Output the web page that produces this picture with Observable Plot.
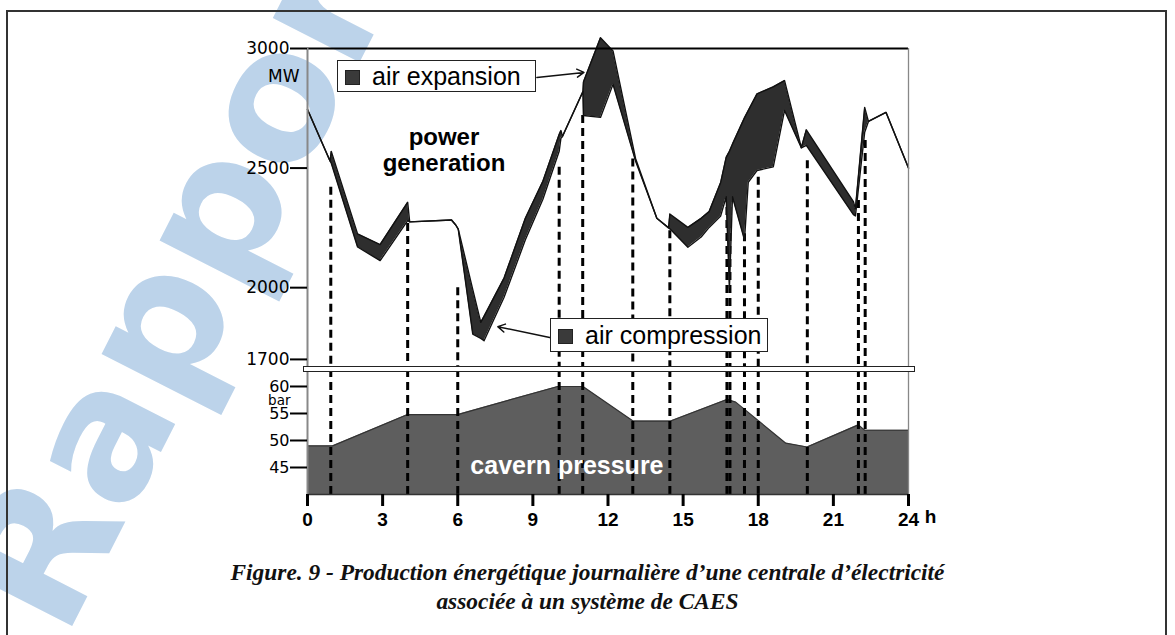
<!DOCTYPE html>
<html>
<head>
<meta charset="utf-8">
<script src="https://cdn.jsdelivr.net/npm/d3@7"></script>
<script src="https://cdn.jsdelivr.net/npm/@observablehq/plot@0.6"></script>
<style>
  html, body { margin:0; padding:0; background:#fff; }
  body { width:1175px; height:635px; overflow:hidden; position:relative; font-family:"Liberation Sans", Arial, sans-serif; }
  #wm { position:absolute; left:0; top:0; }
  #border { position:absolute; left:6px; top:10px; width:1161px; height:640px; border:2px solid #333; box-sizing:border-box; }
  #topPanel { position:absolute; left:0; top:0; }
  #botPanel { position:absolute; left:0; top:368px; }
  #sep { position:absolute; left:303px; top:366px; width:612px; height:6px; box-sizing:border-box; background:#fff; border:1.5px solid #222; }
  .legend { position:absolute; background:#fff; border:1.5px solid #222; box-sizing:border-box; font-size:25px; color:#000; white-space:nowrap; }
  .legend .sw { position:absolute; width:15px; height:15px; background:#3a3a3a; border:1px solid #222; box-sizing:border-box; }
  .legend .tx { position:absolute; line-height:1; }
  #caption { position:absolute; left:0; top:558px; width:1175px; text-align:center; font-family:"Liberation Serif", "DejaVu Serif", serif; font-style:italic; font-weight:bold; font-size:23.4px; line-height:29px; color:#111; }
</style>
</head>
<body>
<svg id="wm" width="1175" height="635"><text x="248" y="281" transform="rotate(-63 248 281)" text-anchor="middle" font-family="DejaVu Sans, Liberation Sans, sans-serif" font-weight="bold" font-size="178" fill="#bcd3ea">Rapport</text></svg>
<div id="border"></div>
<div id="topPanel"></div>
<div id="botPanel"></div>
<div id="sep"></div>
<div class="legend" style="left:337px;top:60px;width:199px;height:32px;"><div class="sw" style="left:7px;top:9px;"></div><div class="tx" style="left:34px;top:3px;">air expansion</div></div>
<div class="legend" style="left:550px;top:318px;width:218px;height:34px;"><div class="sw" style="left:7px;top:10px;"></div><div class="tx" style="left:34px;top:4px;">air compression</div></div>
<div id="caption">Figure. 9 - Production énergétique journalière d’une centrale d’électricité<br>associée à un système de CAES</div>
<script>
// ---- power generation (MW): band edges (upper / lower) per hour ----
const hours = [0.00, 0.90, 0.95, 2.00, 2.90, 4.00, 4.08, 5.75, 5.92, 6.02, 6.60, 6.92, 7.05, 7.85, 8.70, 9.40, 10.05, 10.12, 10.18, 11.00, 11.02, 11.70, 12.20, 13.10, 13.95, 14.42, 14.47, 15.19, 15.72, 16.04, 16.50, 16.72, 16.85, 16.97, 17.45, 17.60, 17.95, 18.60, 19.05, 19.72, 19.92, 21.80, 21.88, 22.25, 22.40, 23.10, 24.00];
const upperMW = [2745, 2530, 2570, 2225, 2180, 2357, 2275, 2283, 2262, 2245, 1992, 1855, 1880, 2040, 2290, 2445, 2640, 2657, 2632, 2820, 2860, 3045, 2990, 2540, 2290, 2250, 2308, 2252, 2290, 2318, 2440, 2545, 2570, 2600, 2710, 2740, 2810, 2840, 2866, 2585, 2660, 2360, 2330, 2754, 2695, 2733, 2500];
const lowerMW = [2745, 2530, 2520, 2170, 2113, 2280, 2275, 2283, 2262, 2245, 1806, 1788, 1778, 1960, 2200, 2370, 2570, 2625, 2632, 2820, 2720, 2712, 2850, 2530, 2290, 2250, 2246, 2169, 2212, 2252, 2300, 2380, 2000, 2380, 2200, 2440, 2490, 2505, 2741, 2585, 2595, 2305, 2300, 2650, 2695, 2733, 2500];

// ---- cavern pressure (bar) ----
const pHours = [0, 1.0, 4.0, 6.0, 10.0, 11.0, 13.0, 14.5, 16.75, 17.1, 19.1, 19.95, 22.0, 22.25, 24];
const pBar   = [49, 49, 54.8, 54.8, 60, 60, 53.6, 53.6, 57.6, 57.1, 49.5, 48.8, 52.9, 51.9, 51.9];

// ---- switching instants (dashed lines) and where they start in the top panel ----
const dashHours = [0.93, 4.0, 6.0, 10.05, 10.99, 12.99, 14.47, 16.75, 16.87, 17.45, 18.0, 19.96, 22.0, 22.27];
const dashTopMW = [2420, 2268, 2000, 2503, 2720, 2538, 2238, 2390, 2390, 2225, 2462, 2531, 2364, 2615];

// ---- ticks ----
const mwTicks = [1700, 2000, 2500, 3000];
const barTicks = [45, 50, 55, 60];
const hourTicks = [0, 3, 6, 9, 12, 15, 18, 21, 24];

const band = hours.map((h, i) => ({h, up: upperMW[i], lo: lowerMW[i]}));
const press = pHours.map((h, i) => ({h, p: pBar[i], base: 40}));
const dashes = dashHours.map((h, i) => ({h, top: dashTopMW[i]}));

const font = "Liberation Sans, Arial, sans-serif";
const tickFont = "DejaVu Sans, Liberation Sans, sans-serif";
const dash = {stroke: "#000", strokeWidth: 3, strokeDasharray: "8,5"};

const topPlot = Plot.plot({
  width: 1175, height: 368,
  marginLeft: 307, marginRight: 267, marginTop: 48, marginBottom: 0,
  x: {domain: [0, 24], axis: null},
  y: {domain: [1662, 3000], axis: null},
  style: {background: "transparent", overflow: "visible", fontFamily: font},
  marks: [
    Plot.ruleX(dashes, {x: "h", y1: "top", y2: 1662, ...dash}),
    Plot.areaY(band, {x: "h", y1: "lo", y2: "up", fill: "#2e2e2e", curve: "linear"}),
    Plot.line(band, {x: "h", y: "up", stroke: "#111", strokeWidth: 1.4}),
    Plot.line(band, {x: "h", y: "lo", stroke: "#111", strokeWidth: 1.4}),
    Plot.ruleY([3000], {x1: 0, x2: 24, stroke: "#000", strokeWidth: 2}),
    Plot.ruleX([0], {stroke: "#888", strokeWidth: 2}),
    Plot.ruleX([24], {stroke: "#888", strokeWidth: 1.3}),
    Plot.axisY({ticks: mwTicks, tickSize: 17, tickPadding: 1, fontSize: 17, fontFamily: tickFont, strokeWidth: 2, tickFormat: d => String(d), label: null}),
    Plot.text(["MW"], {frameAnchor: "top-left", dx: -8, dy: 28, textAnchor: "end", lineAnchor: "middle", fontSize: 17, fontFamily: tickFont}),
    Plot.text(["power\ngeneration"], {x: 5.45, y: 2577, fontSize: 24, fontWeight: "bold", lineHeight: 1.08, fill: "#000"}),
    Plot.arrow([{x1: 9.16, y1: 2879, x2: 11.04, y2: 2900}], {x1: "x1", y1: "y1", x2: "x2", y2: "y2", stroke: "#111", strokeWidth: 1.5, headLength: 8}),
    Plot.arrow([{x1: 9.72, y1: 1791, x2: 7.6, y2: 1837}], {x1: "x1", y1: "y1", x2: "x2", y2: "y2", stroke: "#111", strokeWidth: 1.5, headLength: 8})
  ]
});
document.getElementById("topPanel").appendChild(topPlot);

const botPlot = Plot.plot({
  width: 1175, height: 267,
  marginLeft: 307, marginRight: 267, marginTop: 0, marginBottom: 141,
  x: {domain: [0, 24], axis: null},
  y: {domain: [40, 63.33], axis: null},
  style: {background: "transparent", overflow: "visible", fontFamily: font},
  marks: [
    Plot.areaY(press, {x: "h", y1: "base", y2: "p", fill: "#5e5e5e", curve: "linear"}),
    Plot.line(press, {x: "h", y: "p", stroke: "#333", strokeWidth: 1.2}),
    Plot.ruleX(dashes, {x: "h", y1: 40, y2: 63.33, ...dash}),
    Plot.ruleY([40], {x1: 0, x2: 24, stroke: "#333", strokeWidth: 1.5}),
    Plot.ruleX([0], {stroke: "#888", strokeWidth: 2}),
    Plot.ruleX([24], {stroke: "#888", strokeWidth: 1.3}),
    Plot.axisY({ticks: barTicks, tickSize: 17, tickPadding: 1, fontSize: 16, fontFamily: tickFont, strokeWidth: 2, label: null}),
    Plot.axisX({ticks: hourTicks, tickSize: 12, tickPadding: 6, fontSize: 19, fontWeight: "bold", strokeWidth: 3, label: null}),
    Plot.text(["h"], {x: [24], frameAnchor: "bottom", dx: 22, dy: 28, fontSize: 19, fontWeight: "bold"}),
    Plot.text(["bar"], {frameAnchor: "top-left", dx: -17, dy: 32, textAnchor: "end", lineAnchor: "middle", fontSize: 13.5, fontFamily: tickFont}),
    Plot.text(["cavern pressure"], {x: 10.36, y: 45.2, fontSize: 25, fontWeight: "bold", fill: "#fff"})
  ]
});
document.getElementById("botPanel").appendChild(botPlot);
</script>
</body>
</html>
